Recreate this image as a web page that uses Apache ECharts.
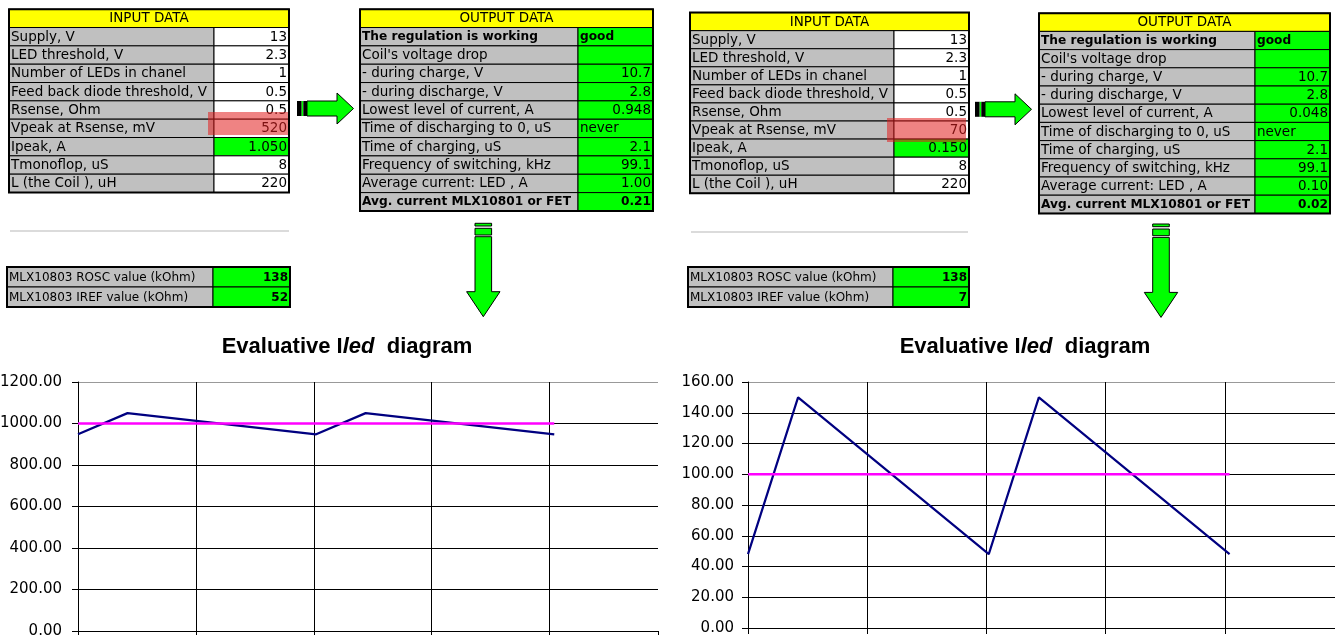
<!DOCTYPE html>
<html>
<head>
<meta charset="utf-8">
<script src="https://cdn.jsdelivr.net/npm/echarts@6/dist/echarts.min.js"></script>
<style>
  html, body { margin: 0; padding: 0; background: #fff; }
  #main { width: 1335px; height: 635px; }
</style>
</head>
<body>
<div id="main"></div>
<script>
// LED buck regulator calculator: two operating points side by side.

// ---- sheet contents ----
const inputLabels = ['Supply, V', 'LED threshold, V', 'Number of LEDs in chanel',
  'Feed back diode threshold, V', 'Rsense, Ohm', 'Vpeak at Rsense, mV', 'Ipeak, A',
  'Tmonoflop, uS', 'L (the Coil ), uH'];
const inputValuesA = ['13', '2.3', '1', '0.5', '0.5', '520', '1.050', '8', '220'];
const inputValuesB = ['13', '2.3', '1', '0.5', '0.5', '70', '0.150', '8', '220'];

const outputLabels = ['The regulation is working', "Coil's voltage drop", '- during charge, V',
  '- during discharge, V', 'Lowest level of current, A', 'Time of discharging to 0, uS',
  'Time of charging, uS', 'Frequency of switching, kHz', 'Average current: LED , A',
  'Avg. current MLX10801 or FET'];
const outputValuesA = ['good', '', '10.7', '2.8', '0.948', 'never', '2.1', '99.1', '1.00', '0.21'];
const outputValuesB = ['good', '', '10.7', '2.8', '0.048', 'never', '2.1', '99.1', '0.10', '0.02'];

const mlxLabels = ['MLX10803 ROSC value (kOhm)', 'MLX10803 IREF value (kOhm)'];
const mlxValuesA = ['138', '52'];
const mlxValuesB = ['138', '7'];

// ---- diagram data (time in uS, current in mA) ----
const timeUs = [0, 2.1, 10.1, 12.2, 20.2];
const ledCurrentA = [948, 1050, 948, 1050, 948];
const ledCurrentB = [48, 150, 48, 150, 48];
const avgSpanUs = [0, 20.2];
const avgCurrentA = 1000;
const avgCurrentB = 100;
const yMaxA = 1200, yStepA = 200;
const yMaxB = 160, yStepB = 20;
const timeStepUs = 5;

// ---- drawing helpers ----
const FAM = '"DejaVu Sans"';
const GRAY = '#C0C0C0', GREEN = '#00FF00', YELLOW = '#FFFF00';
const els = [];

function rect(x, y, w, h, fill, stroke, lw, z) {
  els.push({ type: 'rect', z: z || 1, shape: { x, y, width: w, height: h },
    style: { fill: fill || 'none', stroke: stroke || null, lineWidth: lw || 1 }, silent: true });
}
function text(x, y, str, font, align, maxW, z) {
  els.push({ type: 'text', z: z || 2, x, y, silent: true,
    style: { text: str, font, fill: '#000', textAlign: align, textVerticalAlign: 'middle',
      align: align, verticalAlign: 'middle',
      width: maxW, overflow: maxW ? 'truncate' : 'none', ellipsis: '' } });
}

function table(t) {
  const { x0, x1, x2, y0, rowH, header, labels, values } = t;
  let row = 0;
  if (header) {
    rect(x0, y0, x2 - x0, rowH, YELLOW, '#000', 1);
    text((x0 + x2) / 2, y0 + rowH / 2 + 0.5, header, '13.5px ' + FAM, 'center');
    row = 1;
  }
  labels.forEach((lab, i) => {
    const y = y0 + (row + i) * rowH;
    rect(x0, y, x1 - x0, rowH, GRAY, '#000', 1);
    rect(x1, y, x2 - x1, rowH, t.valueFill(i), '#000', 1);
    const bold = t.boldRow(i);
    const lf = bold ? 'bold ' + t.boldSize + 'px ' + FAM : t.size + 'px ' + FAM;
    text(x0 + 2, y + rowH / 2 + 0.5, lab, lf, 'left', x1 - x0 - 2);
    const v = values[i];
    if (v !== '') {
      const vf = (bold || t.boldValues) ? 'bold ' + t.boldSize + 'px ' + FAM : t.size + 'px ' + FAM;
      if (isNaN(parseFloat(v))) text(x1 + 2, y + rowH / 2 + 0.5, v, vf, 'left');
      else text(x2 - 2, y + rowH / 2 + 0.5, v, vf, 'right');
    }
  });
  const rows = labels.length + row;
  rect(x0, y0, x2 - x0, rows * rowH, null, '#000', 2, 3);
}

function rightArrow(x, yc) {
  rect(x, yc - 7.5, 4.7, 15, '#000');
  rect(x + 4.7, yc - 7.5, 1.6, 15, GREEN);
  rect(x + 6.3, yc - 7.5, 3.7, 15, '#000');
  els.push({ type: 'polygon', z: 1, silent: true,
    shape: { points: [[x + 10, yc - 7.5], [x + 40, yc - 7.5], [x + 40, yc - 15.5], [x + 56.5, yc],
      [x + 40, yc + 15.5], [x + 40, yc + 7.5], [x + 10, yc + 7.5]] },
    style: { fill: GREEN, stroke: '#000', lineWidth: 1 } });
}

function downArrow(xc, yTop) {
  rect(xc - 8.3, yTop, 16.6, 2.7, GREEN, '#000', 1);
  rect(xc - 8.3, yTop + 5, 16.6, 6.7, GREEN, '#000', 1);
  els.push({ type: 'polygon', z: 1, silent: true,
    shape: { points: [[xc - 8.3, yTop + 13.4], [xc + 8.3, yTop + 13.4], [xc + 8.3, yTop + 68.4],
      [xc + 16.7, yTop + 68.4], [xc, yTop + 93.4], [xc - 16.7, yTop + 68.4], [xc - 8.3, yTop + 68.4]] },
    style: { fill: GREEN, stroke: '#000', lineWidth: 1 } });
}

function separator(xa, xb, y) {
  els.push({ type: 'line', z: 1, silent: true, shape: { x1: xa, y1: y, x2: xb, y2: y },
    style: { stroke: '#CFCFCF', lineWidth: 1.5 } });
}

// left sheet
table({ x0: 9, x1: 214, x2: 289, y0: 9.2, rowH: 18.33, header: 'INPUT DATA',
  labels: inputLabels, values: inputValuesA, size: 13.5, boldSize: 12.2,
  valueFill: i => (i === 6 ? GREEN : '#FFFFFF'), boldRow: () => false });
table({ x0: 360, x1: 578, x2: 653, y0: 9.2, rowH: 18.34, header: 'OUTPUT DATA',
  labels: outputLabels, values: outputValuesA, size: 13.5, boldSize: 12.2,
  valueFill: () => GREEN, boldRow: i => i === 0 || i === 9 });
table({ x0: 7, x1: 213, x2: 290, y0: 267, rowH: 20, labels: mlxLabels, values: mlxValuesA,
  size: 12, boldSize: 12, boldValues: true, valueFill: () => GREEN, boldRow: () => false });
rect(208, 112, 80, 23, 'rgba(225,30,30,0.55)', null, 0, 5);
rightArrow(297, 108.5);
downArrow(483.3, 223.3);
separator(10, 289, 231);

// right sheet
table({ x0: 690, x1: 894, x2: 969, y0: 12.6, rowH: 18.07, header: 'INPUT DATA',
  labels: inputLabels, values: inputValuesB, size: 13.5, boldSize: 12.2,
  valueFill: i => (i === 6 ? GREEN : '#FFFFFF'), boldRow: () => false });
table({ x0: 1039, x1: 1255, x2: 1330, y0: 13.2, rowH: 18.2, header: 'OUTPUT DATA',
  labels: outputLabels, values: outputValuesB, size: 13.5, boldSize: 12.2,
  valueFill: () => GREEN, boldRow: i => i === 0 || i === 9 });
table({ x0: 688, x1: 893, x2: 969, y0: 267, rowH: 20, labels: mlxLabels, values: mlxValuesB,
  size: 12, boldSize: 12, boldValues: true, valueFill: () => GREEN, boldRow: () => false });
rect(887, 118, 79, 24, 'rgba(225,30,30,0.55)', null, 0, 5);
rightArrow(975, 109.3);
downArrow(1161, 224);
separator(691, 968, 232);

// ---- diagrams ----
const pair = (xs, ys) => xs.map((x, i) => [x, ys[i]]);
const flat = (xs, v) => xs.map(x => [x, v]);

function yAxisFor(gridIndex, max, step, margin) {
  const n = Math.round(max / step) + 1;
  return {
    type: 'value', gridIndex, min: 0, max, interval: step,
    axisLine: { show: true, lineStyle: { color: '#000', width: 1 } },
    axisTick: { show: true, length: 6, lineStyle: { color: '#000' } },
    axisLabel: { margin, color: '#000', fontFamily: 'DejaVu Sans', fontSize: 15,
      formatter: v => v.toFixed(2) },
    splitLine: { show: true,
      lineStyle: { color: Array(n - 1).fill('#000').concat('#999'), width: 1 } }
  };
}
function xAxisFor(gridIndex, max) {
  return {
    type: 'value', gridIndex, min: 0, max, interval: timeStepUs,
    axisLine: { show: true, onZero: false, lineStyle: { color: '#000', width: 1 } },
    axisTick: { show: true, length: 6, lineStyle: { color: '#000' } },
    axisLabel: { show: false },
    splitLine: { show: true, showMinLine: false, showMaxLine: false,
      lineStyle: { color: '#000', width: 1 } }
  };
}
function titleAt(cx) {
  const base = { fontFamily: 'Liberation Sans', fontSize: 22, fontWeight: 'bold', color: '#000' };
  return {
    text: '{n|Evaluative I}{i|led}{n|  diagram}', left: cx, top: 336, textAlign: 'center', padding: 0,
    textStyle: { fontWeight: 'bold', rich: {
      n: base,
      i: Object.assign({}, base, { fontStyle: 'italic' }) } }
  };
}

const chart = echarts.init(document.getElementById('main'), null, { renderer: 'canvas' });
chart.setOption({
  backgroundColor: '#fff',
  animation: false,
  title: [titleAt(347), titleAt(1025)],
  grid: [
    { left: 78, top: 382, width: 580, height: 249, containLabel: false, outerBoundsMode: 'none' },
    { left: 748, top: 382, width: 596, height: 246, containLabel: false, outerBoundsMode: 'none' }
  ],
  xAxis: [xAxisFor(0, 24.6), xAxisFor(1, 25)],
  yAxis: [yAxisFor(0, yMaxA, yStepA, 16), yAxisFor(1, yMaxB, yStepB, 14)],
  series: [
    { type: 'line', xAxisIndex: 0, yAxisIndex: 0, data: pair(timeUs, ledCurrentA), symbol: 'none',
      lineStyle: { color: '#000080', width: 2.2 } },
    { type: 'line', xAxisIndex: 0, yAxisIndex: 0, data: flat(avgSpanUs, avgCurrentA), symbol: 'none',
      lineStyle: { color: '#FF00FF', width: 2.5 } },
    { type: 'line', xAxisIndex: 1, yAxisIndex: 1, data: pair(timeUs, ledCurrentB), symbol: 'none',
      lineStyle: { color: '#000080', width: 2.2 } },
    { type: 'line', xAxisIndex: 1, yAxisIndex: 1, data: flat(avgSpanUs, avgCurrentB), symbol: 'none',
      lineStyle: { color: '#FF00FF', width: 2.5 } }
  ],
  graphic: { elements: els }
});
</script>
</body>
</html>
